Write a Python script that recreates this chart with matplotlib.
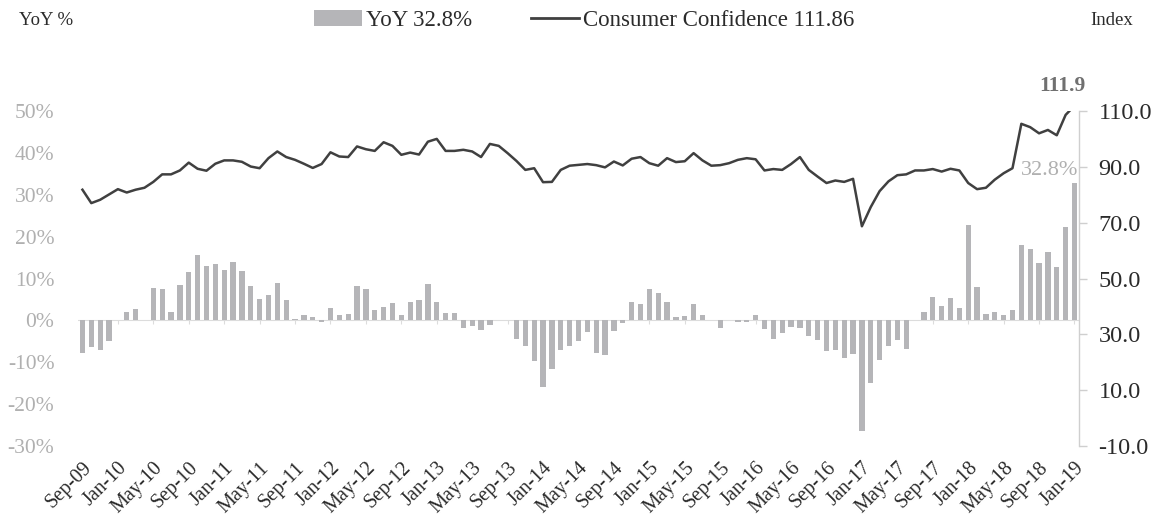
import matplotlib
matplotlib.use("Agg")
import matplotlib.pyplot as plt
from matplotlib.patches import Patch
from matplotlib.lines import Line2D
import numpy as np

plt.rcParams['font.family'] = ['Liberation Serif', 'DejaVu Serif']

# ---- data -----------------------------------------------------------------
months = ['Sep', 'Oct', 'Nov', 'Dec', 'Jan', 'Feb', 'Mar', 'Apr', 'May', 'Jun', 'Jul', 'Aug']
start_year = 2009
n_months = 113  # Sep-09 .. Jan-19
categories = []
for i in range(n_months):
    m = months[i % 12]
    yr = start_year + (i + 8) // 12
    categories.append(f"{m}-{yr % 100:02d}")

yoy = [
    -7.9, -6.3, -7.1, -4.9, 0.0, 1.9, 2.7, 0.2, 7.7, 7.5, 2.0, 8.5,
    11.5, 15.6, 12.9, 13.5, 12.1, 14.0, 11.7, 8.3, 5.2, 6.0, 8.9, 4.9,
    0.4, 1.2, 0.8, -0.3, 3.0, 1.2, 1.6, 8.1, 7.5, 2.4, 3.2, 4.1,
    1.4, 4.5, 4.9, 8.7, 4.5, 1.8, 1.8, -1.8, -1.4, -2.4, -1.0, 0.0,
    0.0, -4.4, -6.2, -9.8, -15.9, -11.7, -7.1, -6.0, -4.9, -2.8, -7.9, -8.3,
    -2.6, -0.6, 4.4, 3.8, 7.4, 6.5, 4.5, 0.8, 1.0, 3.8, 1.3, 0.2,
    -1.7, 0.2, -0.3, -0.4, 1.2, -2.1, -4.4, -2.9, -1.6, -1.7, -3.8, -4.6,
    -7.3, -7.1, -9.0, -8.1, -26.4, -14.9, -9.4, -6.0, -4.8, -6.9, 0.0, 1.9,
    5.7, 3.5, 5.4, 2.9, 22.7, 7.9, 1.5, 2.0, 1.3, 2.5, 18.1, 17.1,
    13.6, 16.4, 12.7, 22.4, 32.8,
]

confidence = [
    81.8, 77.0, 78.2, 80.1, 82.0, 80.8, 81.8, 82.5, 84.6, 87.3, 87.3, 88.7,
    91.5, 89.3, 88.6, 91.1, 92.3, 92.3, 91.8, 90.1, 89.5, 93.1, 95.5, 93.5,
    92.5, 91.1, 89.6, 91.0, 95.2, 93.7, 93.5, 97.3, 96.3, 95.7, 98.8, 97.5,
    94.3, 95.1, 94.4, 99.0, 100.0, 95.7, 95.7, 96.1, 95.5, 93.5, 98.2, 97.5,
    94.9, 92.1, 88.9, 89.5, 84.5, 84.6, 88.9, 90.4, 90.7, 91.0, 90.6, 89.8,
    91.9, 90.5, 92.9, 93.5, 91.3, 90.4, 93.1, 91.7, 92.0, 94.9, 92.3, 90.4,
    90.6, 91.3, 92.5, 93.1, 92.7, 88.7, 89.2, 88.9, 91.0, 93.5, 88.9, 86.5,
    84.2, 85.1, 84.6, 85.7, 68.7, 75.6, 81.3, 84.8, 87.0, 87.3, 88.7, 88.7,
    89.2, 88.3, 89.3, 88.7, 84.2, 82.0, 82.5, 85.4, 87.7, 89.5, 105.4, 104.2,
    102.0, 103.2, 101.3, 108.6, 111.86,
]

left_ticks = [50, 40, 30, 20, 10, 0, -10, -20, -30]
right_ticks = [110, 90, 70, 50, 30, 10, -10]
label_step = 4

legend_bar = 'YoY 32.8%'
legend_line = 'Consumer Confidence 111.86'

# ---- style ----------------------------------------------------------------
bar_color = '#b5b5b8'
line_color = '#404040'
dark = '#2b2b2b'
light_label = '#b0b0b0'

x = np.arange(len(categories))

fig = plt.figure(figsize=(11.61, 5.31), dpi=100)
ax = fig.add_axes([0.0672, 0.160, 0.8621, 0.631])
ax2 = ax.twinx()

ax.axhline(0, color='#dcdcdc', lw=0.8, zorder=1)
tick_idx = x[::label_step]
ax.vlines(tick_idx, -0.9, 0, color='#dcdcdc', lw=0.8, zorder=1)
ax.bar(x, yoy, width=0.6, color=bar_color, zorder=2)

ax2.plot(x, confidence, color=line_color, lw=1.8, zorder=3)

ax.set_xlim(-0.5, len(categories) - 0.5)
ax.set_ylim(-30, 50)
ax2.set_ylim(-10, 110)

ax.set_yticks(left_ticks)
ax.set_yticklabels([f"{v}%" for v in left_ticks])
ax.tick_params(axis='y', length=0, labelsize=15.5, labelcolor=light_label, pad=17)
ax2.set_yticks(right_ticks)
ax2.set_yticklabels([f"{v:.1f}" for v in right_ticks])
ax2.tick_params(axis='y', length=6, width=1, color='#cfcfcf', labelsize=17.5,
                labelcolor=dark, direction='out', pad=8)

ax.set_xticks(tick_idx)
ax.set_xticklabels([categories[i] for i in tick_idx], rotation=45, ha='right',
                   rotation_mode='anchor')
ax.tick_params(axis='x', length=0, labelsize=14.5, labelcolor=dark, pad=9)

for s in ['top', 'left', 'bottom', 'right']:
    ax.spines[s].set_visible(False)
    ax2.spines[s].set_visible(False)
ax2.spines['right'].set_visible(True)
ax2.spines['right'].set_color('#cfcfcf')
ax2.spines['right'].set_linewidth(1)

# annotations
ax2.annotate(f"{confidence[-1]:.1f}", (x[-1], confidence[-1]), xytext=(8, 7),
             textcoords='offset points', ha='right', va='bottom',
             fontsize=15.5, color='#707070', fontweight='bold',
             annotation_clip=False)
ax.annotate(f"{yoy[-1]:.1f}%", (x[-1], yoy[-1]), xytext=(3, 2),
            textcoords='offset points', ha='right', va='bottom',
            fontsize=16, color=light_label, annotation_clip=False)

# header texts
fig.text(0.016, 0.962, 'YoY %', ha='left', va='center', fontsize=13.5, color=dark)
fig.text(0.939, 0.962, 'Index', ha='left', va='center', fontsize=13.5, color=dark)

handles = [Patch(facecolor=bar_color, edgecolor='none'),
           Line2D([0], [0], color=line_color, lw=2)]
fig.legend(handles, [legend_bar, legend_line], loc='center',
           bbox_to_anchor=(0.503, 0.962), ncol=2, frameon=False,
           fontsize=16.5, handlelength=2.1, handleheight=0.7,
           handletextpad=0.15, columnspacing=2.6, labelcolor=dark)

fig.savefig('out.png', dpi=100)
